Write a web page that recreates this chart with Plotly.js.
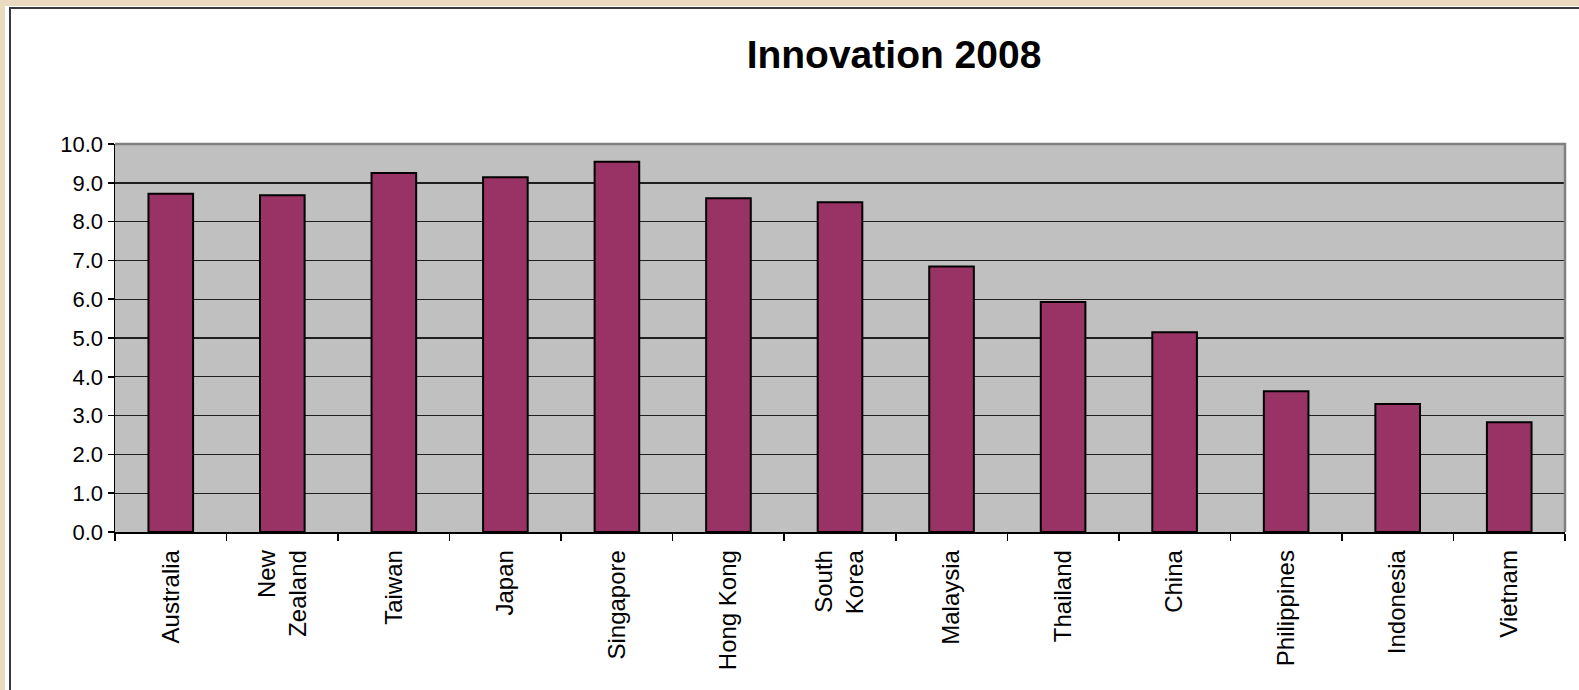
<!DOCTYPE html>
<html>
<head>
<meta charset="utf-8">
<script src="https://cdn.plot.ly/plotly-3.0.1.min.js"></script>
<style>
  html, body { margin: 0; padding: 0; width: 1579px; height: 690px; overflow: hidden; background: #EADBC0; }
  #outer { position: absolute; left: 5px; top: 6px; width: 1574px; height: 684px; background: #ffffff; }
  #frame { position: absolute; left: 9px; top: 7px; width: 1570px; height: 683px;
           border-left: 2px solid #3a3a3a; border-top: 2px solid #3a3a3a; background: #ffffff; }
  #chart { position: absolute; left: 0; top: 0; width: 1568px; height: 681px; }
</style>
</head>
<body>
<div id="outer"></div>
<div id="frame"><div id="chart"></div></div>
<script>
const categories = ["Australia", "New<br>Zealand", "Taiwan", "Japan", "Singapore", "Hong Kong",
                    "South<br>Korea", "Malaysia", "Thailand", "China", "Philippines", "Indonesia", "Vietnam"];
const innovation2008 = [8.72, 8.68, 9.25, 9.14, 9.54, 8.60, 8.50, 6.84, 5.93, 5.15, 3.63, 3.30, 2.83];
const yTickValues = [0, 1, 2, 3, 4, 5, 6, 7, 8, 9, 10];
const chartTitle = "Innovation 2008";

const W = 1568, H = 681;
const FONT = "Liberation Sans, Arial, Helvetica, sans-serif";

const trace = {
  type: "bar",
  x: categories,
  y: innovation2008,
  marker: { color: "#993366", line: { color: "#000000", width: 2 } },
  hoverinfo: "skip"
};

const layout = {
  width: W,
  height: H,
  margin: { l: 104, r: 14, t: 135, b: 158 },
  paper_bgcolor: "#ffffff",
  plot_bgcolor: "#C0C0C0",
  showlegend: false,
  bargap: 0.6,
  font: { family: FONT, color: "#000000" },
  title: {
    text: "<b>" + chartTitle + "</b>",
    font: { family: FONT, size: 39, color: "#000000" },
    xref: "container", x: 883 / W, xanchor: "center",
    yref: "container", y: 1 - 45 / H, yanchor: "middle"
  },
  xaxis: {
    type: "category",
    tickson: "boundaries",
    ticks: "outside",
    ticklen: 7,
    tickwidth: 1.5,
    tickcolor: "#000000",
    showline: true,
    linecolor: "#000000",
    linewidth: 1.5,
    showgrid: false,
    tickangle: -90,
    ticklabelstandoff: 7,
    tickfont: { family: FONT, size: 24, color: "#000000" },
    fixedrange: true
  },
  yaxis: {
    range: [0, 10],
    tickvals: yTickValues,
    tickformat: ".1f",
    ticks: "outside",
    ticklen: 6,
    tickwidth: 1.5,
    tickcolor: "#000000",
    showline: true,
    linecolor: "#000000",
    linewidth: 1.5,
    showgrid: true,
    gridcolor: "#1f1f1f",
    gridwidth: 1.4,
    zeroline: false,
    tickfont: { family: FONT, size: 22, color: "#000000" },
    fixedrange: true
  },
  shapes: [
    { type: "path", xref: "paper", yref: "paper", path: "M 0 1 L 1 1 L 1 0",
      line: { color: "#808080", width: 2.5 } }
  ]
};

Plotly.newPlot("chart", [trace], layout, { displayModeBar: false, staticPlot: true });
</script>
</body>
</html>
